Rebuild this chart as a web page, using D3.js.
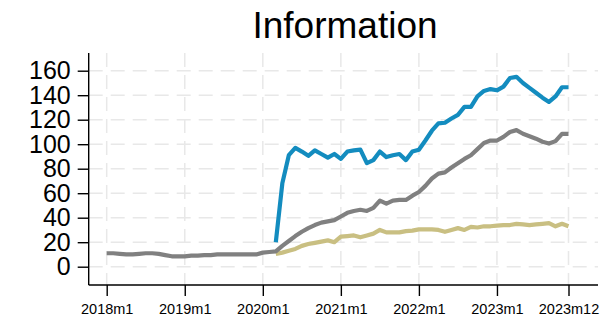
<!DOCTYPE html>
<html>
<head>
<meta charset="utf-8">
<script src="https://cdn.jsdelivr.net/npm/d3@7"></script>
<style>
  body { margin: 0; background: white; }
  text { font-family: "Liberation Sans", Arial, sans-serif; }
</style>
</head>
<body>
<div id="chart"></div>
<script>
// months since 2018m1
let xTicks = [0, 12, 24, 36, 48, 60, 71]
let xTickLabels = ["2018m1", "2019m1", "2020m1", "2021m1", "2022m1", "2023m1", "2023m12"]
let yTicks = [0, 20, 40, 60, 80, 100, 120, 140, 160]

// gray series, 2018m1 .. 2023m12
let totalVals = [11, 11, 10.5, 10, 10, 10.5, 11, 11, 10.5, 9.5, 8.5, 8.5,
    8.5, 9, 9, 9.5, 9.5, 10, 10, 10, 10, 10, 10, 10,
    11.5, 12, 12.5, 17, 21, 25, 28.5, 31.5, 34, 36, 37, 38,
    41, 44, 45.5, 46.5, 45.5, 48, 54, 51.5, 54, 54.5, 54.5, 58,
    61, 66, 72, 76, 77, 81, 84.5, 88, 91, 96, 101, 103,
    103, 106, 110, 111.5, 108.5, 106.5, 104.5, 102, 100.5, 102.5, 108.5, 108.5]
// blue and khaki series start at 2020m3
let startMonth = 26
let blueVals = [20, 68, 91, 97, 94, 90.5, 95, 92, 89, 92,
    88, 94, 95, 95.5, 84.5, 87, 94, 89.5, 91, 92, 87, 94,
    95.5, 103, 111, 117, 117.5, 121, 124, 130.5, 130.5, 139, 143.5, 145,
    144, 147, 154, 155, 150, 146, 142, 138, 134.5, 139, 146.5, 146.5]
let khakiVals = [10.5, 11.5, 13, 14.5, 17, 18.5, 19.5, 20.5, 21.5, 20,
    24.5, 25, 25.5, 24, 25.5, 27, 30, 28, 28, 28, 29, 29.5,
    30.5, 30.5, 30.5, 30, 28.5, 30, 31.5, 30, 32.5, 32, 33, 33,
    33.5, 34, 34, 35, 34.5, 34, 34.5, 35, 35.5, 33, 35, 33]

let width = 610
let height = 319
let svg = d3.select("#chart").append("svg")
    .attr("width", width)
    .attr("height", height)

let x = d3.scaleLinear().domain([0, 71]).range([106.7, 568.5])
let y = d3.scaleLinear().domain([0, 160]).range([266.7, 70.7])

let plotLeft = 88.7, plotRight = 598, plotTop = 53, plotBottom = 285

// grid
let grid = svg.append("g")
    .attr("stroke", "#e8e8e8")
    .attr("stroke-width", 1.5)
    .attr("stroke-dasharray", "14,8")
grid.selectAll("line.h").data(yTicks).join("line").attr("class", "h")
    .attr("x1", plotLeft).attr("x2", plotRight)
    .attr("y1", d => y(d)).attr("y2", d => y(d))
grid.selectAll("line.v").data(xTicks).join("line").attr("class", "v")
    .attr("x1", d => x(d)).attr("x2", d => x(d))
    .attr("y1", plotTop).attr("y2", plotBottom)

// lines
let line = d3.line().x(d => x(d[0])).y(d => y(d[1]))
let series = [
    { color: "#c9bf82", pts: khakiVals.map((v, i) => [startMonth + i, v]) },
    { color: "#808080", pts: totalVals.map((v, i) => [i, v]) },
    { color: "#138cbf", pts: blueVals.map((v, i) => [startMonth + i, v]) }
]
svg.append("g").selectAll("path").data(series).join("path")
    .attr("d", d => line(d.pts))
    .attr("fill", "none")
    .attr("stroke", d => d.color)
    .attr("stroke-width", 4.2)
    .attr("stroke-linejoin", "round")

// axes
let yAxis = svg.append("g")
    .attr("transform", `translate(${plotLeft},0)`)
    .call(d3.axisLeft(y).tickValues(yTicks).tickSize(11).tickPadding(7))
yAxis.select(".domain").attr("d", `M0,${plotTop}V${plotBottom}`)
let xAxis = svg.append("g")
    .attr("transform", `translate(0,${plotBottom})`)
    .call(d3.axisBottom(x).tickValues(xTicks).tickSize(11).tickPadding(8)
        .tickFormat((d, i) => xTickLabels[i]))
xAxis.select(".domain").attr("d", `M${plotLeft},0H${plotRight}`)

svg.selectAll(".domain, .tick line").attr("stroke", "#000").attr("stroke-width", 1.4)
yAxis.selectAll("text").attr("font-size", 25).attr("fill", "#000")
    .attr("font-family", "Liberation Sans, Arial, sans-serif")
xAxis.selectAll("text").attr("font-size", 14.5).attr("fill", "#000")
    .attr("font-family", "Liberation Sans, Arial, sans-serif")

// title
svg.append("text")
    .attr("x", 345)
    .attr("y", 37.7)
    .attr("text-anchor", "middle")
    .attr("font-size", 37)
    .attr("fill", "#000")
    .text("Information")
</script>
</body>
</html>
